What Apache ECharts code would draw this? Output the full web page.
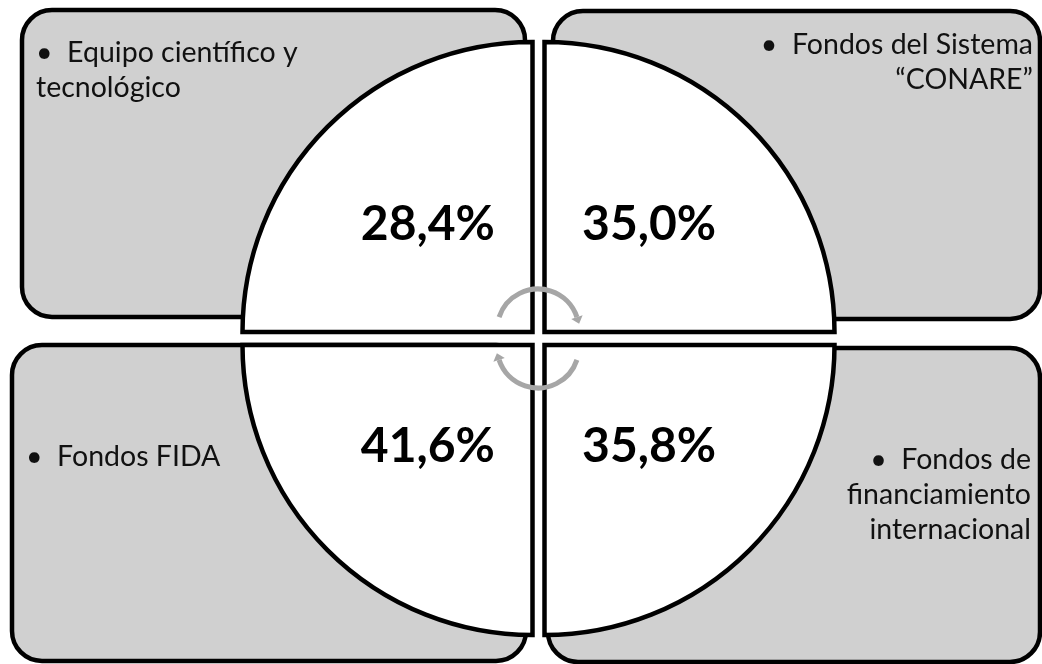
<!DOCTYPE html>
<html>
<head>
<meta charset="utf-8">
<script src="https://cdn.jsdelivr.net/npm/echarts@6/dist/echarts.min.js"></script>
<style>
  html, body { margin: 0; padding: 0; background: #fff; }
  #chart { width: 1042px; height: 664px; }
</style>
</head>
<body>
<div id="chart"></div>
<script>
// categories (one per quadrant: TL, TR, BL, BR)
var categories = [
  'Equipo científico y\ntecnológico',
  'Fondos del Sistema\n“CONARE”',
  'Fondos FIDA',
  'Fondos de\nfinanciamiento\ninternacional'
]
var values = [28.4, 35.0, 41.6, 35.8]

// layout of the four quadrants
var pieCenters = [[532.5, 332], [544.5, 332], [532.5, 345], [544.5, 345]]
var pieStart = [180, 90, 270, 0]
var boxes = [
  {x: 22, y: 10, w: 503, h: 307},
  {x: 553, y: 11, w: 487, h: 308},
  {x: 12, y: 345, w: 514, h: 316},
  {x: 548, y: 348, w: 492, h: 314}
]
var labelPos = [
  {x: 36, y: 35, align: 'left'},
  {x: 1033, y: 27, align: 'right'},
  {x: 26, y: 439, align: 'left'},
  {x: 1031, y: 442, align: 'right'}
]

var myChart = echarts.init(document.getElementById('chart'))

function fmt (v) {
  return v.toFixed(1).replace('.', ',') + '%'
}

var series = values.map(function (v, i) {
  return {
    type: 'pie',
    center: pieCenters[i],
    radius: [0, 290],
    startAngle: pieStart[i],
    clockwise: true,
    silent: true,
    animation: false,
    emphasis: {disabled: true},
    labelLine: {show: false},
    data: [{
      name: categories[i],
      value: 1,
      itemStyle: {color: '#ffffff', borderColor: '#000000', borderWidth: 4.5, borderJoin: 'miter'},
      label: {
        show: true,
        position: 'inside',
        formatter: fmt(v),
        fontFamily: 'Lato',
        fontWeight: 'bold',
        fontSize: 48,
        color: '#000000',
        offset: [0, -3]
      }
    }, {
      name: '',
      value: 3,
      itemStyle: {color: 'transparent', borderWidth: 0},
      label: {show: false}
    }]
  }
})

// rounded grey boxes behind the quarters
var elements = boxes.map(function (b) {
  return {
    type: 'rect',
    z: -10,
    shape: {x: b.x, y: b.y, width: b.w, height: b.h, r: 30},
    style: {fill: '#d0d0d0', stroke: '#000000', lineWidth: 4.5}
  }
})

categories.forEach(function (c, i) {
  var lines = c.split('\n')
  var text = lines.map(function (l, k) { return k === 0 ? '•  ' + l : l }).join('\n')
  elements.push({
    type: 'text',
    z: 100,
    x: labelPos[i].x,
    y: labelPos[i].y,
    style: {
      text: text,
      fontFamily: 'Lato',
      fontSize: 28.5,
      lineHeight: 35,
      fill: '#111111',
      textAlign: labelPos[i].align,
      textVerticalAlign: 'top'
    }
  })
})

// circular arrows in the middle
var arrows = [
  {cx: 538, cy: 330, r: 41, a0: Math.PI + 0.32, a1: 2 * Math.PI - 0.32},
  {cx: 538, cy: 347, r: 41, a0: 0.32, a1: Math.PI - 0.32}
]
arrows.forEach(function (a) {
  elements.push({
    type: 'arc',
    z: 100,
    shape: {cx: a.cx, cy: a.cy, r: a.r, startAngle: a.a0, endAngle: a.a1, clockwise: true},
    style: {stroke: '#a6a6a6', lineWidth: 5, fill: null}
  })
  var ex = a.cx + a.r * Math.cos(a.a1)
  var ey = a.cy + a.r * Math.sin(a.a1)
  var dx = -Math.sin(a.a1)
  var dy = Math.cos(a.a1)
  elements.push({
    type: 'polygon',
    z: 100,
    shape: {points: [
      [ex + dx * 7, ey + dy * 7],
      [ex - dy * 6, ey + dx * 6],
      [ex + dy * 6, ey - dx * 6]
    ]},
    style: {fill: '#a6a6a6'}
  })
})

myChart.setOption({
  backgroundColor: '#ffffff',
  animation: false,
  graphic: {elements: elements},
  series: series
})
</script>
</body>
</html>
